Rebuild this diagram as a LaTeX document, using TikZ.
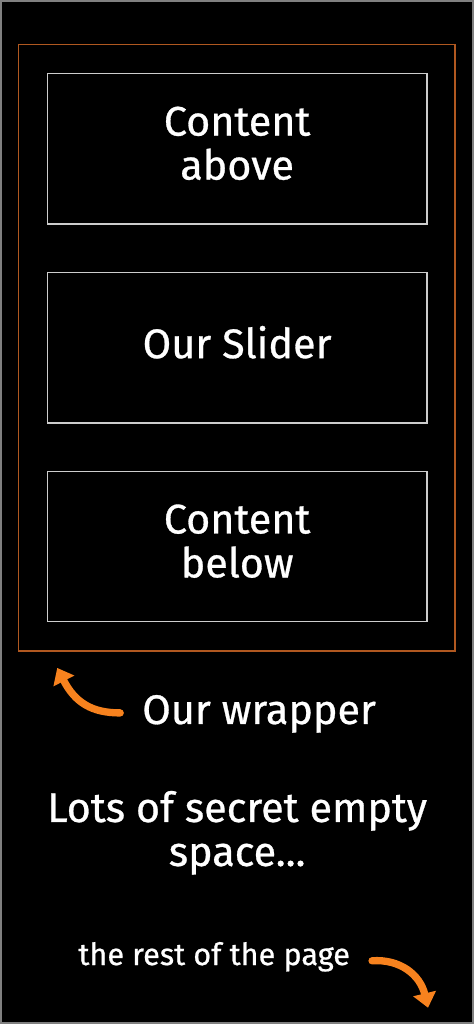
\documentclass[tikz,border=0pt]{standalone}
\usepackage{fontspec}
\setmainfont{Fira Sans}[UprightFeatures={FakeBold=0.7}]
\usetikzlibrary{arrows.meta}
\definecolor{wrapcol}{RGB}{176,88,32}
\definecolor{arrowcol}{RGB}{247,130,30}
\definecolor{boxcol}{RGB}{205,205,205}
\tikzset{every picture/.style={line width=0.75pt}}
\tikzset{
  slidebox/.style={draw=boxcol, line width=1pt, minimum width=285pt, minimum height=113pt},
  bigtext/.style={text=white, align=center, font=\fontsize{31}{33}\selectfont, inner sep=0.75pt},
  smalltext/.style={text=white, font=\fontsize{23}{26}\selectfont, inner sep=0.75pt},
  curlyarrow/.style={draw=arrowcol, line width=5.5pt, line cap=round, -{Triangle[length=11pt,width=17pt]}}
}

\begin{document}
\begin{tikzpicture}[x=0.75pt,y=0.75pt,yscale=-1,xscale=1]
%background and frame
\fill[black] (0,0) rectangle (474,1024);
\draw[color={rgb, 255:red, 128; green, 128; blue, 128}, line width=1.5pt] (0.75,0.75) rectangle (473.25,1023.25);
\useasboundingbox (0,0) rectangle (474,1024);

%Shape: Rectangle (wrapper)
\draw[wrapcol, line width=1pt] (18.5,44.5) rectangle (455,651);

%Shape: Rectangles (content boxes)
\node[slidebox] (above) at (237,148.5) {};
\node[slidebox] (slider) at (237,347.5) {};
\node[slidebox] (below) at (237,546.5) {};

% Text Nodes in the boxes
\node[bigtext] (aboveText) at ([yshift=-4pt]above.center) {Content\\above};
\node[bigtext] (sliderText) at ([yshift=-4pt]slider.center) {Our Slider};
\node[bigtext] (belowText) at ([yshift=-4pt]below.center) {Content\\below};
% Text Node
\node[bigtext] (wrapper) at (259,714) {Our wrapper};
% Text Node
\node[bigtext] (space) at (237,833) {Lots of secret empty\\space...};
% Text Node
\node[smalltext] (rest) at (214,957) {the rest of the page};

%Curved arrows
\coordinate (wtail) at (120,713);
\coordinate (wtip) at (57,668);
\draw[curlyarrow] (wtail) .. controls (92,713) and (75,703) .. (wtip);
\coordinate (rtail) at (372,961);
\coordinate (rtip) at (428,1008);
\draw[curlyarrow] (rtail) .. controls (400,959) and (420,975) .. (rtip);

\end{tikzpicture}
\end{document}
